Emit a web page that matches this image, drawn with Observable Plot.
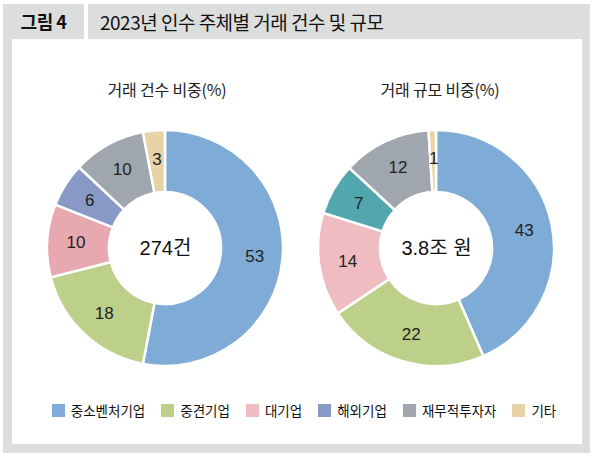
<!DOCTYPE html>
<html>
<head>
<meta charset="utf-8">
<script src="https://cdn.jsdelivr.net/npm/d3@7"></script>
<script src="https://cdn.jsdelivr.net/npm/@observablehq/plot@0.6"></script>
<style>
  body { margin: 0; background: #fff; font-family: "Liberation Sans", "Noto Sans CJK KR", sans-serif; color: #111; }
  #frame { position: relative; width: 595px; height: 459px; overflow: hidden; }
  .abs { position: absolute; }
  .grey { background: #dcdedd; }
  .white { background: #fff; }
  #tag { left: 3px; top: 4px; width: 81px; height: 35px; line-height: 35px; text-align: center; font-family: "Noto Sans CJK KR", sans-serif; font-weight: bold; font-size: 18px; letter-spacing: -0.5px; }
  #title { left: 100px; top: 4px; height: 35px; line-height: 35px; font-family: "Noto Sans CJK KR", sans-serif; font-size: 19px; letter-spacing: -0.5px; }
  .sub { top: 78px; width: 200px; text-align: center; font-family: "Noto Sans CJK KR", sans-serif; font-size: 16px; line-height: 22px; color: #222; letter-spacing: -0.2px; }
  #legend { left: 19px; top: 400px; width: 570px; display: flex; justify-content: center; gap: 16px; font-family: "Noto Sans CJK KR", sans-serif; font-size: 13.5px; color: #111; }
  .item { display: flex; align-items: center; gap: 6px; }
  .sw { width: 13px; height: 13px; }
</style>
</head>
<body>
<div id="frame">
  <div class="abs grey" style="left:3px;top:4px;width:587px;height:449px"></div>
  <div class="abs white" style="left:12px;top:39px;width:570px;height:405px"></div>
  <div class="abs white" style="left:84px;top:4px;width:4px;height:35px"></div>
  <div class="abs" id="tag">그림 4</div>
  <div class="abs" id="title">2023년 인수 주체별 거래 건수 및 규모</div>
  <div class="abs sub" style="left:67px">거래 건수 비중(%)</div>
  <div class="abs sub" style="left:340px">거래 규모 비중(%)</div>
  <div class="abs" id="left" style="left:37px;top:120px"></div>
  <div class="abs" id="right" style="left:308px;top:120px"></div>
  <div class="abs" id="legend"></div>
</div>
<script>
const categories = ["중소벤처기업", "중견기업", "대기업", "해외기업", "재무적투자자", "기타"];
const countShare = [53, 18, 10, 6, 10, 3];
const valueShare = [43, 22, 14, 7, 12, 1];
const legendColors = ["#7facd6", "#bdd08a", "#efbdc1", "#8899c8", "#a0a6ad", "#e7d3a6"];
const countColors = ["#7facd6", "#bdd08a", "#e8a8b0", "#8899c8", "#a0a6ad", "#e7d3a6"];
const valueColors = ["#7facd6", "#bdd08a", "#efbcc1", "#52a6ad", "#a0a6ad", "#e7d3a6"];
const centerLabels = ["274건", "3.8조 원"];

function donut(values, colors, center) {
  const rows = categories.map((c, i) => ({cat: c, v: values[i]}));
  const arcs = d3.pie().sort(null).value(d => d.v)(rows);
  const inner = 0.475, mid = 0.76;
  const labels = arcs.map(a => {
    const t = (a.startAngle + a.endAngle) / 2;
    return {text: a.data.v, x: mid * Math.sin(t), y: mid * Math.cos(t)};
  });
  const color = Plot.scale({color: {type: "ordinal", domain: categories, range: colors}});

  // slices drawn with d3.arc, placed by the plot's x/y scales
  const slices = (index, scales, channels, dims) => {
    const cx = scales.x ? scales.x(0) : dims.width / 2;
    const cy = scales.y ? scales.y(0) : dims.height / 2;
    const R = scales.x ? Math.abs(scales.x(1) - cx) : 118;
    const arc = d3.arc().innerRadius(R * inner).outerRadius(R);
    const g = d3.create("svg:g").attr("transform", `translate(${cx},${cy})`);
    g.selectAll("path").data(arcs).join("path")
      .attr("d", arc)
      .attr("fill", d => color.apply(d.data.cat))
      .attr("stroke", "#fff")
      .attr("stroke-width", 2.5)
      .attr("stroke-linejoin", "round");
    return g.node();
  };

  return Plot.plot({
    width: 256,
    height: 256,
    margin: 0,
    x: {domain: [-1.085, 1.085], axis: null},
    y: {domain: [-1.085, 1.085], axis: null},
    style: {fontFamily: '"Liberation Sans", "Noto Sans CJK KR", sans-serif', background: "transparent", overflow: "visible"},
    marks: [
      slices,
      Plot.text(labels, {x: "x", y: "y", text: "text", fontSize: 17, fill: "#222"}),
      Plot.text([center], {frameAnchor: "middle", text: d => d, fontSize: 20, fill: "#111"})
    ]
  });
}

d3.select("#left").append(() => donut(countShare, countColors, centerLabels[0]));
d3.select("#right").append(() => donut(valueShare, valueColors, centerLabels[1]));

const legend = d3.select("#legend");
categories.forEach((c, i) => {
  const item = legend.append("div").attr("class", "item");
  item.append("div").attr("class", "sw").style("background", legendColors[i]);
  item.append("span").text(c);
});
</script>
</body>
</html>
